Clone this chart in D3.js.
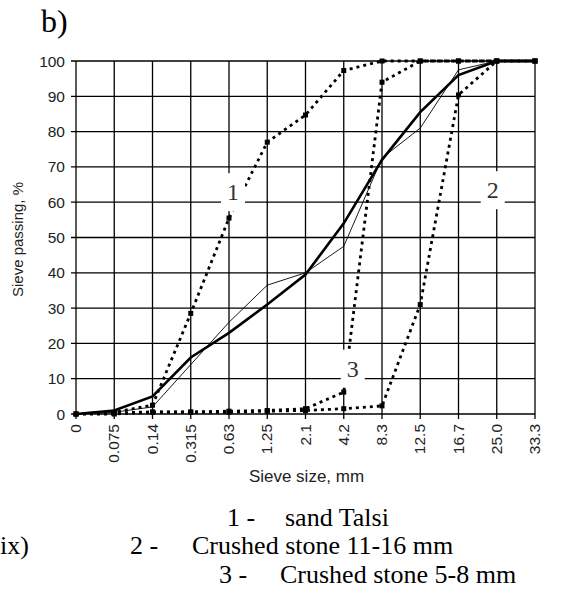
<!DOCTYPE html>
<html>
<head>
<meta charset="utf-8">
<script src="https://cdn.jsdelivr.net/npm/d3@7"></script>
<style>
  body { margin: 0; background: #fff; }
  svg { display: block; }
</style>
</head>
<body>
<div id="chart"></div>
<script>
// Data
const sieveSizes = ["0", "0.075", "0.14", "0.315", "0.63", "1.25", "2.1", "4.2", "8.3", "12.5", "16.7", "25.0", "33.3"];
const yTicks = [0, 10, 20, 30, 40, 50, 60, 70, 80, 90, 100];
const mixPassing = [0, 1, 5, 16, 23, 31, 39.5, 54, 72, 85.5, 96, 100, 100];
const targetPassing = [0, 0.5, 2, 14, 26, 36.5, 40, 47.5, 72.5, 81, 97.5, 100, 100];
const sandTalsi = [0, 0.5, 2.5, 28.5, 55.5, 77, 84.7, 97.3, 100, 100, 100, 100, 100];
const stone11to16 = [0, 0, 0.5, 0.5, 0.5, 0.8, 1, 1.5, 2.3, 31, 90.4, 100, 100];
const stone5to8 = [0, 0.3, 0.6, 0.6, 0.8, 1, 1.5, 6.2, 94, 100, 100, 100, 100];
const curveLabels = [
    { text: "1", size: "0.63", value: 60, dx: 4, dy: -10 },
    { text: "2", size: "25.0", value: 60, dx: -4, dy: -12 },
    { text: "3", size: "4.2", value: 10, dx: 9, dy: -10 }
];
const legendRows = [
    { num: "1 -", name: "sand Talsi" },
    { num: "2 -", name: "Crushed stone 11-16 mm" },
    { num: "3 -", name: "Crushed stone 5-8 mm" }
];

// Set dimensions
const width = 564;
const height = 596;
const plotLeft = 76, plotRight = 535, plotTop = 61, plotBottom = 414;

const svg = d3.select('#chart')
    .append('svg')
    .attr('width', width)
    .attr('height', height)
    .style('background', '#fff');

const x = d3.scalePoint().domain(sieveSizes).range([plotLeft, plotRight]);
const y = d3.scaleLinear().domain([0, 100]).range([plotBottom, plotTop]);

const serif = '"Liberation Serif", "Times New Roman", serif';
const sans = '"Liberation Sans", Arial, sans-serif';

// Title
svg.append('text')
    .attr('x', 41).attr('y', 32)
    .style('font-family', serif)
    .style('font-size', '32px')
    .text('b)');

// Grid
svg.append('g')
    .selectAll('line')
    .data(yTicks)
    .enter()
    .append('line')
    .attr('x1', plotLeft - 5).attr('x2', plotRight)
    .attr('y1', d => y(d)).attr('y2', d => y(d))
    .attr('stroke', '#000')
    .attr('stroke-width', 1.3);

svg.append('g')
    .selectAll('line')
    .data(sieveSizes)
    .enter()
    .append('line')
    .attr('x1', d => x(d)).attr('x2', d => x(d))
    .attr('y1', plotTop).attr('y2', plotBottom + 5)
    .attr('stroke', '#000')
    .attr('stroke-width', 1.3);

// Tick labels
svg.append('g')
    .selectAll('text')
    .data(yTicks)
    .enter()
    .append('text')
    .attr('x', plotLeft - 11)
    .attr('y', d => y(d) + 5.5)
    .attr('text-anchor', 'end')
    .style('font-family', sans)
    .style('font-size', '15.5px')
    .attr('fill', '#222')
    .text(d => d);

svg.append('g')
    .selectAll('text')
    .data(sieveSizes)
    .enter()
    .append('text')
    .attr('transform', d => `translate(${x(d) + 5},${plotBottom + 10}) rotate(-90)`)
    .attr('text-anchor', 'end')
    .style('font-family', sans)
    .style('font-size', '15.5px')
    .attr('fill', '#222')
    .text(d => d);

svg.append('text')
    .attr('transform', `translate(23,${(plotTop + plotBottom) / 2 + 2}) rotate(-90)`)
    .attr('text-anchor', 'middle')
    .style('font-family', sans)
    .style('font-size', '15px')
    .attr('fill', '#222')
    .text('Sieve passing, %');

svg.append('text')
    .attr('x', (plotLeft + plotRight) / 2 + 1)
    .attr('y', 482)
    .attr('text-anchor', 'middle')
    .style('font-family', sans)
    .style('font-size', '17px')
    .attr('fill', '#222')
    .text('Sieve size, mm');

// Lines
const line = d3.line()
    .x((d, i) => x(sieveSizes[i]))
    .y(d => y(d));

const dotted = [sandTalsi, stone11to16, stone5to8];

svg.append('path')
    .datum(targetPassing)
    .attr('d', line)
    .attr('fill', 'none')
    .attr('stroke', '#000')
    .attr('stroke-width', 0.9);

dotted.forEach(s => {
    svg.append('path')
        .datum(s)
        .attr('d', line)
        .attr('fill', 'none')
        .attr('stroke', '#000')
        .attr('stroke-width', 2.8)
        .attr('stroke-dasharray', '3,4');

    svg.append('g')
        .selectAll('rect')
        .data(s)
        .enter()
        .append('rect')
        .attr('x', (d, i) => x(sieveSizes[i]) - 2.5)
        .attr('y', d => y(d) - 2.5)
        .attr('width', 5)
        .attr('height', 5)
        .attr('fill', '#000');
});

svg.append('path')
    .datum(mixPassing)
    .attr('d', line)
    .attr('fill', 'none')
    .attr('stroke', '#000')
    .attr('stroke-width', 2.6);

// Curve labels with white boxes
curveLabels.forEach(l => {
    const cx = x(l.size) + l.dx;
    const cy = y(l.value) + l.dy;
    svg.append('rect')
        .attr('x', cx - 12).attr('y', cy - 19)
        .attr('width', 24).attr('height', 38)
        .attr('fill', '#fff');
    svg.append('text')
        .attr('x', cx).attr('y', cy + 8)
        .attr('text-anchor', 'middle')
        .style('font-family', serif)
        .style('font-size', '24px')
        .attr('fill', '#333')
        .text(l.text);
});

// Legend
const legendX = [[227, 285], [130, 192], [219, 280]];
const legendY = [526, 554, 583];
legendRows.forEach((r, i) => {
    svg.append('text')
        .attr('x', legendX[i][0]).attr('y', legendY[i])
        .style('font-family', serif)
        .style('font-size', '26px')
        .text(r.num);
    svg.append('text')
        .attr('x', legendX[i][1]).attr('y', legendY[i])
        .style('font-family', serif)
        .style('font-size', '26px')
        .text(r.name);
});

svg.append('text')
    .attr('x', 0).attr('y', 554)
    .style('font-family', serif)
    .style('font-size', '26px')
    .text('ix)');
</script>
</body>
</html>
